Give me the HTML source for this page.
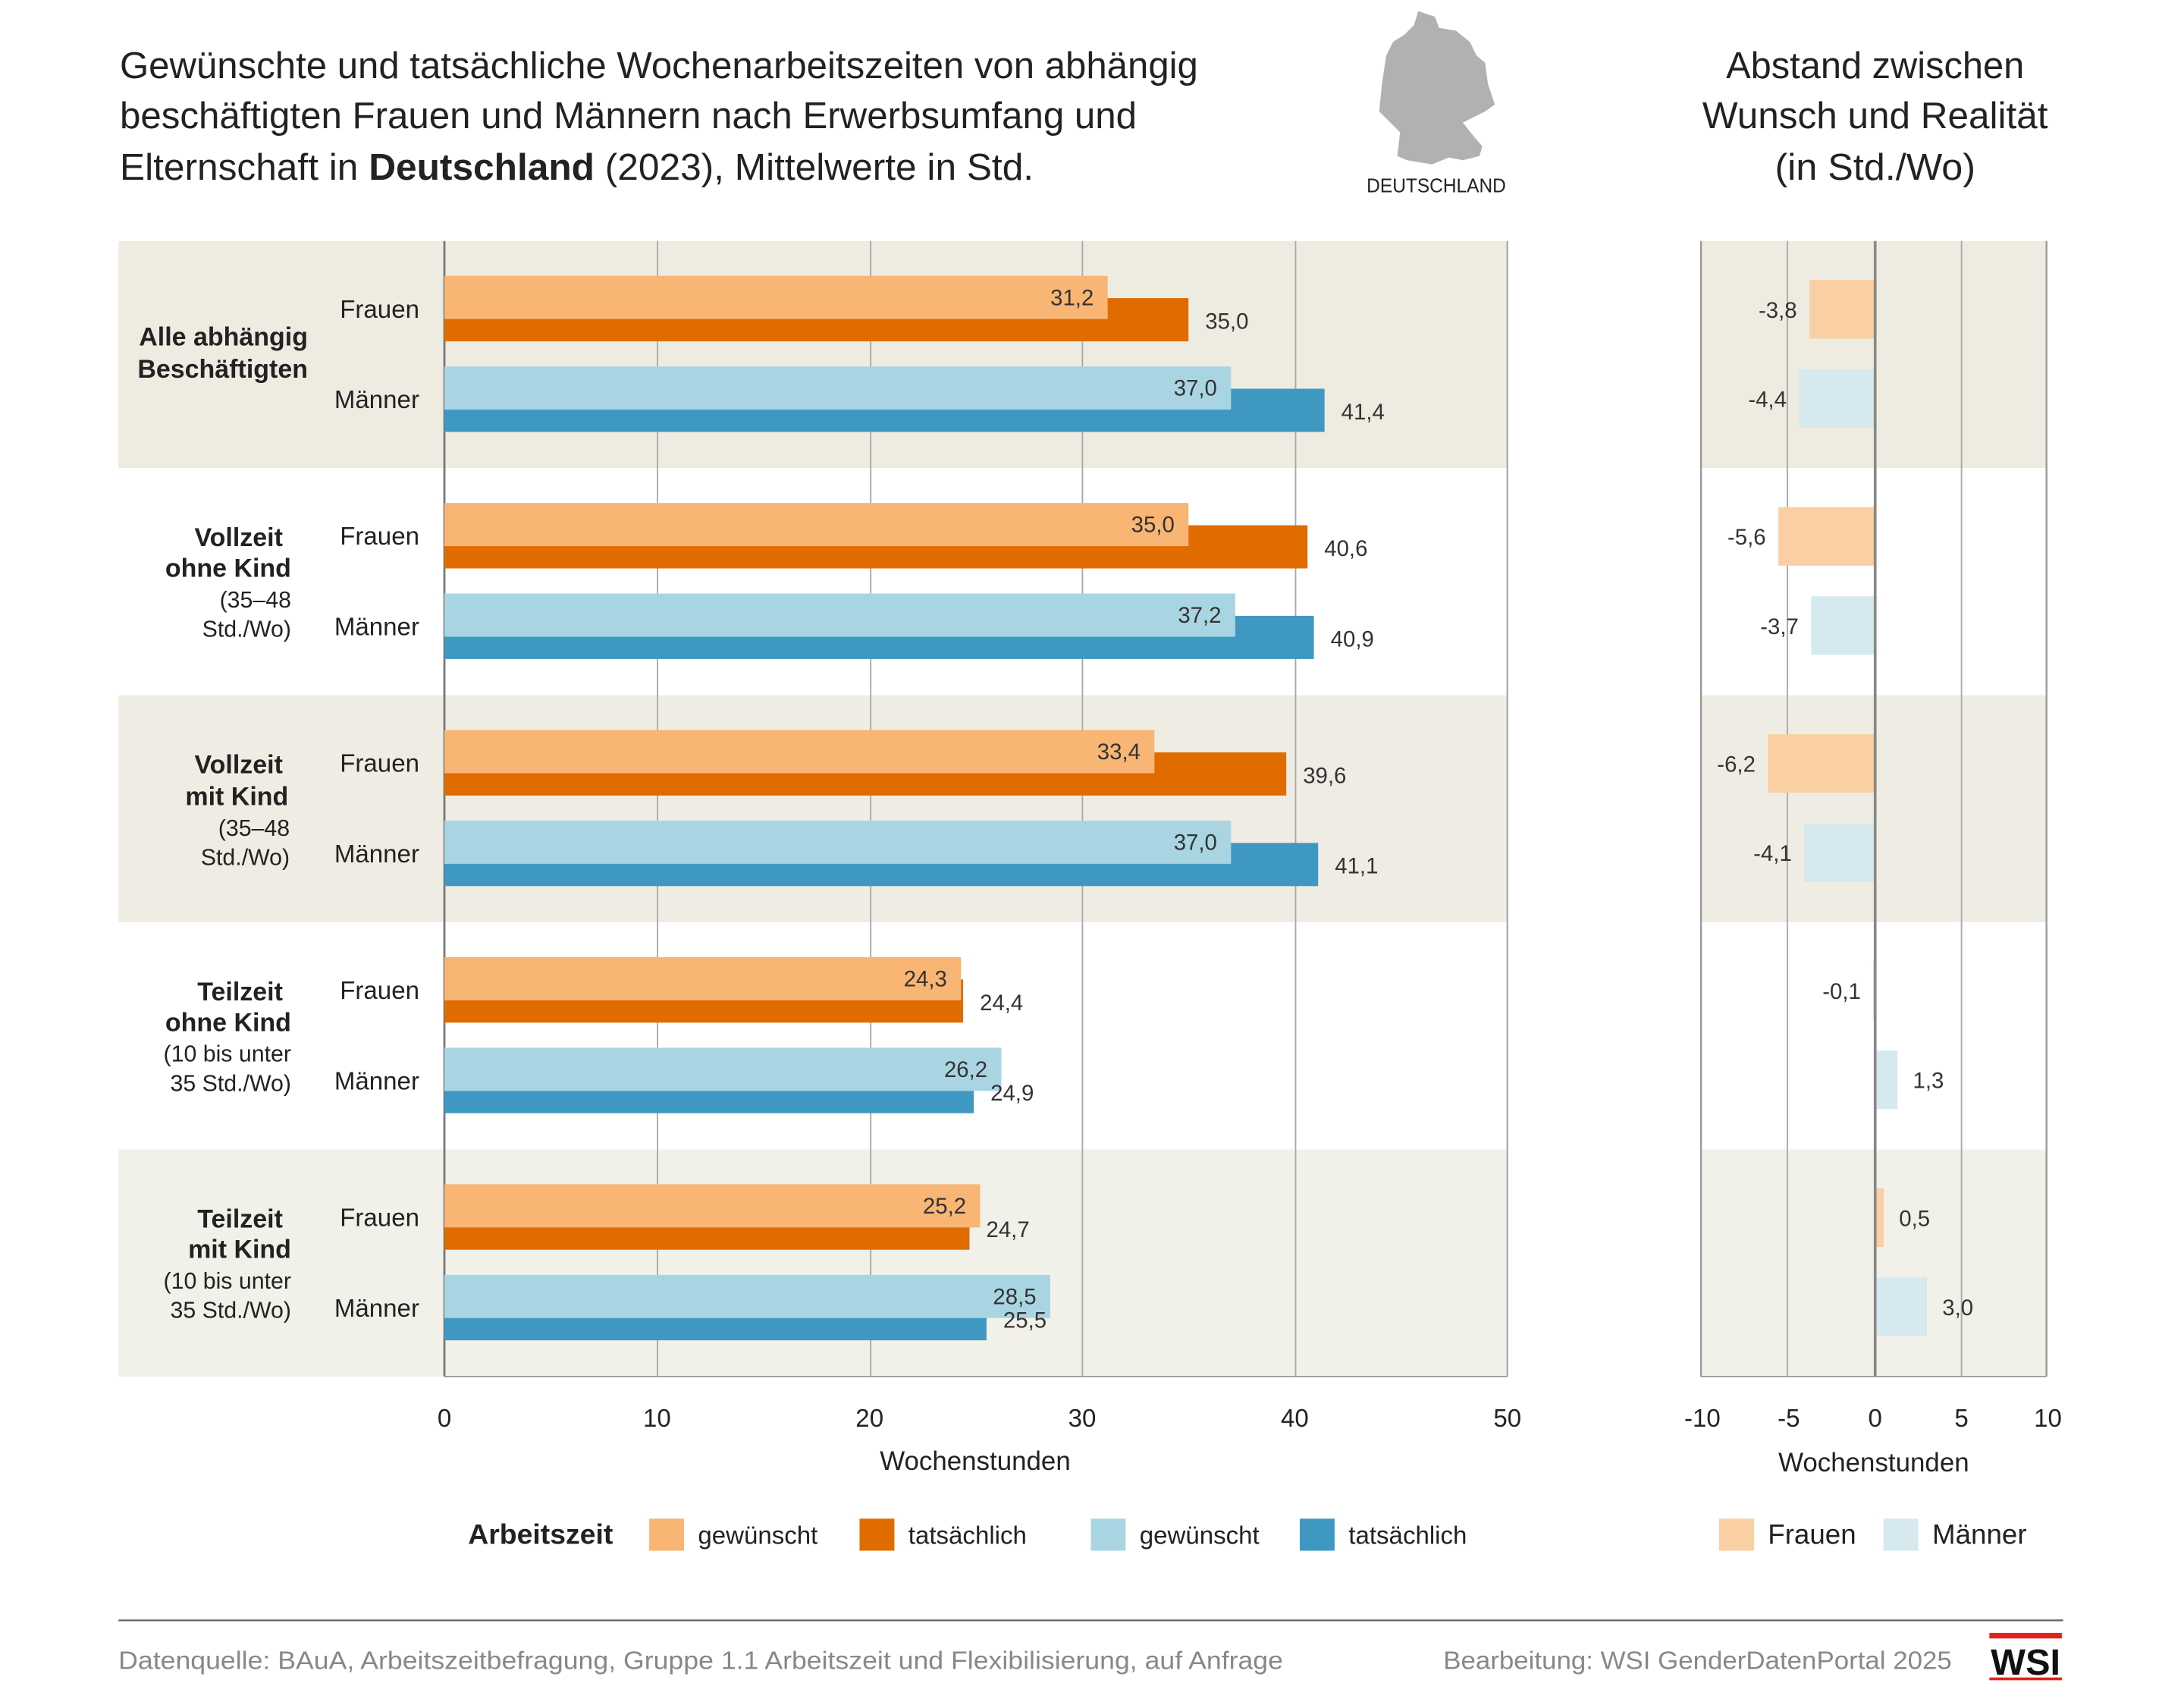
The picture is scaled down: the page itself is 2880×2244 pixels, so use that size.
<!DOCTYPE html>
<html><head><meta charset="utf-8">
<style>
html,body{margin:0;padding:0;background:#fff;}
svg{display:block;}
text{font-family:"Liberation Sans",sans-serif;}
</style></head>
<body>
<svg id="s" xmlns="http://www.w3.org/2000/svg" width="2880" height="2244" viewBox="0 0 1567.7 1221.6" preserveAspectRatio="none" fill="#222">
<rect width="1568" height="1222" fill="#fff"/>
<g font-size="27">
<text x="86" y="56" textLength="774" lengthAdjust="spacingAndGlyphs">Gewünschte und tatsächliche Wochenarbeitszeiten von abhängig</text>
<text x="86" y="92" textLength="730" lengthAdjust="spacingAndGlyphs">beschäftigten Frauen und Männern nach Erwerbsumfang und</text>
<text x="86" y="129" textLength="656" lengthAdjust="spacingAndGlyphs">Elternschaft in <tspan font-weight="bold">Deutschland</tspan> (2023), Mittelwerte in Std.</text>
<text x="1346" y="56" text-anchor="middle" textLength="214" lengthAdjust="spacingAndGlyphs">Abstand zwischen</text>
<text x="1346" y="92" text-anchor="middle" textLength="248" lengthAdjust="spacingAndGlyphs">Wunsch und Realität</text>
<text x="1346" y="129" text-anchor="middle" textLength="144" lengthAdjust="spacingAndGlyphs">(in Std./Wo)</text>
</g>
<polygon fill="#b1b1b2" points="1018,8 1030,12 1033,20 1045,22 1055,30 1060,40 1066,45 1068,60 1073,75 1066,80 1058,84 1050,88 1058,98 1064,105 1062,112 1050,115 1040,113 1028,118 1010,115 1003,112 1005,95 998,88 990,80 992,60 995,40 1000,30 1008,25 1015,18"/>
<text x="1031" y="138" font-size="14" text-anchor="middle" textLength="100" lengthAdjust="spacingAndGlyphs">DEUTSCHLAND</text>
<g id="g"></g>
</svg>
<script>
const NS="http://www.w3.org/2000/svg",g=document.getElementById('g');
function el(t,a,txt){const e=document.createElementNS(NS,t);for(const k in a)e.setAttribute(k,a[k]);if(txt!==undefined)e.textContent=txt;g.appendChild(e);return e;}
const bandCol=['#eeece1','#ffffff','#efede3','#ffffff','#f2f1e9'];
for(let i=0;i<5;i++){const B=173+163*i;
 el('rect',{x:85,y:B,width:997,height:163,fill:bandCol[i]});
 el('rect',{x:1221,y:B,width:248,height:163,fill:bandCol[i]});}
[472,625,777,930].forEach(x=>el('line',{x1:x,x2:x,y1:173,y2:988,stroke:'#a8a8a8','stroke-width':1}));
el('line',{x1:1082,x2:1082,y1:173,y2:988,stroke:'#a8a8a8','stroke-width':1.2});
el('line',{x1:319,x2:319,y1:173,y2:988,stroke:'#777','stroke-width':1.5});
el('line',{x1:319,x2:1082,y1:988,y2:988,stroke:'#999','stroke-width':1});
[1283,1408].forEach(x=>el('line',{x1:x,x2:x,y1:173,y2:988,stroke:'#a8a8a8','stroke-width':1}));
[1221,1469].forEach(x=>el('line',{x1:x,x2:x,y1:173,y2:988,stroke:'#999','stroke-width':1.3}));
el('line',{x1:1221,x2:1469,y1:988,y2:988,stroke:'#999','stroke-width':1});
const data=[[31.2,35.0,37.0,41.4],[35.0,40.6,37.2,40.9],[33.4,39.6,37.0,41.1],[24.3,24.4,26.2,24.9],[25.2,24.7,28.5,25.5]];
const diff=[[-3.8,-4.4],[-5.6,-3.7],[-6.2,-4.1],[-0.1,1.3],[0.5,3.0]];
const fmt=v=>v.toFixed(1).replace('.',',');
const S=15.26,X0=319,Z=1346,S2=12.4;
for(let i=0;i<5;i++){const B=173+163*i,d=data[i];
 [[0,B+25,'#f8b574','#e06c00'],[1,B+90,'#a9d5e3','#3f98c2']].forEach(([k,y,lc,dc])=>{
  const w=d[k*2],t=d[k*2+1];
  el('rect',{x:X0,y:y+16,width:t*S,height:31,fill:dc});
  el('rect',{x:X0,y:y,width:w*S,height:31,fill:lc});
  el('text',{x:X0+w*S-10,y:y+21,'font-size':16,'text-anchor':'end',fill:'#333'},fmt(w));
  el('text',{x:X0+t*S+12,y:y+38,'font-size':16,fill:'#333'},fmt(t));
  el('text',{x:301,y:y+30,'font-size':18,'text-anchor':'end'},k?'Männer':'Frauen');
  const dv=diff[i][k],yy=B+28+k*64,wd=Math.abs(dv)*S2,col=k?'#d5e9ee':'#f9cfa3';
  el('rect',{x:dv<0?Z-wd:Z,y:yy,width:wd,height:42,fill:col});
  if(dv<0) el('text',{x:Z-wd-9,y:yy+27,'font-size':16,'text-anchor':'end',fill:'#333'},fmt(dv));
  else el('text',{x:Z+wd+11,y:yy+27,'font-size':16,fill:'#333'},fmt(dv));
 });
}
el('line',{x1:Z,x2:Z,y1:173,y2:988,stroke:'#888','stroke-width':2});
const L=[[[221,248,'Alle abhängig',1],[221,271,'Beschäftigten',1]],
[[203,392,'Vollzeit',1],[209,414,'ohne Kind',1],[209,436,'(35–48',0],[209,457,'Std./Wo)',0]],
[[203,555,'Vollzeit',1],[207,578,'mit Kind',1],[208,600,'(35–48',0],[208,621,'Std./Wo)',0]],
[[203,718,'Teilzeit',1],[209,740,'ohne Kind',1],[209,762,'(10 bis unter',0],[209,783,'35 Std./Wo)',0]],
[[203,881,'Teilzeit',1],[209,903,'mit Kind',1],[209,925,'(10 bis unter',0],[209,946,'35 Std./Wo)',0]]];
L.flat().forEach(([x,y,t,b])=>el('text',{x:x,y:y,'font-size':b?18.5:16.5,'font-weight':b?'bold':'normal','text-anchor':'end'},t));
[0,10,20,30,40,50].forEach(v=>el('text',{x:X0+v*S,y:1024,'font-size':18,'text-anchor':'middle'},String(v)));
[-10,-5,0,5,10].forEach(v=>el('text',{x:Z+v*S2,y:1024,'font-size':18,'text-anchor':'middle'},String(v)));
el('text',{x:700,y:1055,'font-size':19,'text-anchor':'middle'},'Wochenstunden');
el('text',{x:1345,y:1056,'font-size':19,'text-anchor':'middle'},'Wochenstunden');
el('text',{x:336,y:1108,'font-size':20,'font-weight':'bold',textLength:104,lengthAdjust:'spacingAndGlyphs'},'Arbeitszeit');
[[466,'#f8b574','gewünscht'],[617,'#e06c00','tatsächlich'],[783,'#a9d5e3','gewünscht'],[933,'#3f98c2','tatsächlich'],[1234,'#f9cfa3','Frauen'],[1352,'#d5e9ee','Männer']].forEach(([x,c,t],j)=>{
 el('rect',{x:x,y:1090,width:25,height:23,fill:c});
 el('text',{x:x+35,y:1108,'font-size':j>3?20:18},t);});
el('line',{x1:85,x2:1481,y1:1163,y2:1163,stroke:'#666','stroke-width':1.2});
el('text',{x:85,y:1198,'font-size':18,fill:'#888',textLength:836,lengthAdjust:'spacingAndGlyphs'},'Datenquelle: BAuA, Arbeitszeitbefragung, Gruppe 1.1 Arbeitszeit und Flexibilisierung, auf Anfrage');
el('text',{x:1401,y:1198,'font-size':18,fill:'#888','text-anchor':'end',textLength:365,lengthAdjust:'spacingAndGlyphs'},'Bearbeitung: WSI GenderDatenPortal 2025');
el('rect',{x:1428,y:1172,width:52,height:4,fill:'#e2231a'});
el('rect',{x:1428,y:1204,width:52,height:2,fill:'#e2231a'});
el('text',{x:1454,y:1202,'font-size':26,'font-weight':'bold','text-anchor':'middle',fill:'#111',textLength:50,lengthAdjust:'spacingAndGlyphs'},'WSI');
</script>
</body></html>
